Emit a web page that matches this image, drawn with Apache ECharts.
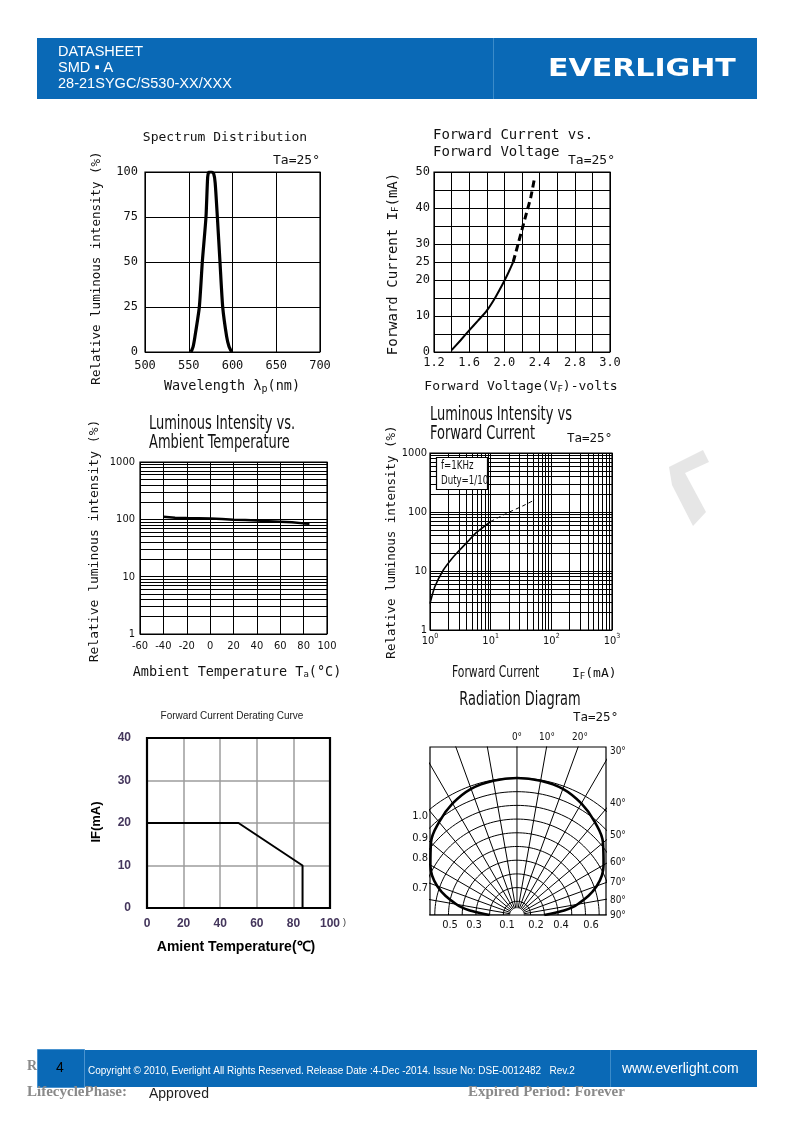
<!DOCTYPE html>
<html><head><meta charset="utf-8">
<script src="https://cdn.jsdelivr.net/npm/echarts@6/dist/echarts.min.js"></script>
<style>html,body{margin:0;padding:0;background:#fff}#c{width:794px;height:1123px}</style>
</head><body><div id="c"></div>
<script>
// ---------------- DATA ----------------
const spectrumWavelength = [552.6, 555, 557.1, 562.1, 565.5, 569.7, 571.6, 573, 576, 578.5, 580.2, 582.7, 585.7, 588.8, 593.3, 596, 599];
const spectrumIntensity  = [0, 3, 8.6, 25, 50, 75, 97, 100, 100, 99, 94, 75, 50, 25, 8.6, 3, 0];

const fvVoltSolid  = [1.4, 1.5, 1.6, 1.7, 1.8, 1.9, 2.0, 2.05, 2.1];
const fvCurrSolid  = [0.5, 3.2, 6, 8.7, 11.5, 15.3, 19.8, 22.3, 25];
const fvVoltDashed = [2.1, 2.15, 2.2, 2.25, 2.3, 2.34];
const fvCurrDashed = [25, 29.5, 34, 38.5, 43, 48];
const fvTickLabels = ['1.2', '', '1.6', '', '2.0', '', '2.4', '', '2.8', '', '3.0'];
const ifTickLabels = ['0', '', '10', '', '20', '25', '30', '', '40', '', '50'];

const tempC  = [-40, -30, -20, -10, 0, 10, 20, 30, 40, 50, 60, 70, 80, 85];
const tempIV = [111, 107, 105, 104, 103, 101, 98, 97, 95, 93, 91, 89, 85, 84];

const ifSolid  = [1, 1.2, 1.66, 2.27, 2.75, 4, 5.85, 8, 10];
const ivSolid  = [2.8, 5.4, 10.4, 16, 20, 30, 45, 58, 69];
const ifDashed = [10, 18.3, 34, 53.5];
const ivDashed = [69, 95, 127, 161];

const logTickLabels = {1: '1', 10: '10', 100: '100', 1000: '1000'};
const logMinorTicks = [2, 3, 4, 5, 6, 7, 8, 9, 20, 30, 40, 50, 60, 70, 80, 90, 200, 300, 400, 500, 600, 700, 800, 900];

const derateTemp = [0, 50, 85, 85];
const derateIF   = [20, 20, 10, 0];

const radAngles    = [0, 10, 20, 30, 40, 50, 60, 70, 80, 85, 90];
const radIntensity = [1.0, 0.995, 0.98, 0.94, 0.885, 0.82, 0.73, 0.62, 0.45, 0.33, 0.2];
const radSpokeAngles = [-90, -80, -70, -60, -50, -40, -30, -20, -10, 0, 10, 20, 30, 40, 50, 60, 70, 80, 90];
const radCircleRadii = [0.1, 0.2, 0.3, 0.4, 0.5, 0.6, 0.7, 0.8, 0.9, 1.0];
const radTopLabels    = ['0°', '10°', '20°'];
const radRightLabels  = ['30°', '40°', '50°', '60°', '70°', '80°', '90°'];
const radLeftLabels   = ['1.0', '0.9', '0.8', '0.7'];
const radBottomLabels = ['0.5', '0.3', '0.1', '0.2', '0.4', '0.6'];

// ---------------- LAYOUT / STYLE ----------------
const MONO = "'DejaVu Sans Mono','Liberation Mono',monospace";
const COND = "'DejaVu Sans Condensed','DejaVu Sans',sans-serif";
const ARIAL = "'Liberation Sans',Arial,sans-serif";
const SERIF = "'Liberation Serif','DejaVu Serif',serif";
const INK = '#111';

const G = [
  {left:145, top:172, width:175, height:180},
  {left:434, top:172, width:176, height:180},
  {left:140, top:462, width:187, height:172},
  {left:430, top:453, width:182, height:177},
  {left:147, top:738, width:183, height:170},
  {left:430, top:747, width:176, height:168}
];
const zip = (a, b) => a.map((v, i) => [v, b[i]]);

function axis(o) {
  const base = {
    type: 'value', axisLine: {show: false}, axisTick: {show: false},
    splitLine: {show: true, lineStyle: {color: '#000', width: 1}},
    axisLabel: {color: INK, fontFamily: MONO, fontSize: 12, showMinLabel: true, showMaxLabel: true, hideOverlap: false}
  };
  const r = Object.assign({}, base, o);
  if (o.axisLabel) r.axisLabel = Object.assign({}, base.axisLabel, o.axisLabel);
  if (o.splitLine) r.splitLine = o.splitLine;
  return r;
}
const supRich = {b: {fontFamily: COND, fontSize: 11, color: INK, lineHeight: 14, verticalAlign: 'bottom'},
                 s: {fontFamily: COND, fontSize: 7, color: INK, lineHeight: 14, verticalAlign: 'top'}};
const logLab = v => logTickLabels[Math.round(v)] || String(Math.round(v));

const xAxes = [
  axis({gridIndex:0, min:500, max:700, interval:50, axisLabel:{margin:8}}),
  axis({gridIndex:1, min:1.2, max:3.2, interval:0.2, axisLabel:{margin:5, formatter:(v,i)=>fvTickLabels[i] || ''}}),
  axis({gridIndex:2, min:-60, max:100, interval:20, axisLabel:{margin:7, fontFamily:COND, fontSize:11}}),
  axis({gridIndex:3, type:'log', logBase:10, min:1, max:1000, axisLabel:{margin:3, formatter:v=>'{b|10}{s|'+Math.round(Math.log10(v))+'}', rich:supRich}}),
  axis({gridIndex:4, min:0, max:100, interval:20, splitLine:{show:true, lineStyle:{color:'#9c9c9c', width:1.5}},
        axisLabel:{margin:10, fontFamily:ARIAL, fontSize:12, fontWeight:'bold', color:'#44365c'}}),
  axis({gridIndex:5, min:-0.635, max:0.65, show:false})
];
const yAxes = [
  axis({gridIndex:0, min:0, max:100, interval:25, axisLabel:{margin:7}}),
  axis({gridIndex:1, min:0, max:50, interval:5, axisLabel:{margin:4, formatter:(v,i)=>ifTickLabels[i] || ''}}),
  axis({gridIndex:2, type:'log', logBase:10, min:1, max:1000, axisLabel:{margin:5, fontFamily:COND, fontSize:11, formatter:logLab}}),
  axis({gridIndex:3, type:'log', logBase:10, min:1, max:1000, axisLabel:{margin:3, fontFamily:COND, fontSize:11, formatter:logLab}}),
  axis({gridIndex:4, min:0, max:40, interval:10, splitLine:{show:true, lineStyle:{color:'#9c9c9c', width:1.5}},
        axisLabel:{margin:16, fontFamily:ARIAL, fontSize:12, fontWeight:'bold', color:'#44365c'}}),
  axis({gridIndex:5, min:0, max:1.226, show:false})
];

function line(idx, data, o) {
  return Object.assign({type:'line', xAxisIndex:idx, yAxisIndex:idx, data, showSymbol:false, symbol:'none',
    silent:true, clip:true, z:5, lineStyle:{color:'#000', width:1}}, o || {});
}
function minorLines(idx, key) {
  const d = [];
  key.forEach(k => logMinorTicks.forEach(v => d.push({[k]: v})));
  return {type:'line', xAxisIndex:idx, yAxisIndex:idx, data:[], silent:true, z:2,
    markLine:{silent:true, symbol:['none','none'], label:{show:false}, animation:false,
      lineStyle:{color:'#000', width:1, type:'solid'}, emphasis:{disabled:true}, data:d}};
}

const series = [
  line(0, zip(spectrumWavelength, spectrumIntensity), {smooth:0.2, lineStyle:{color:'#000', width:3.2}}),
  line(1, zip(fvVoltSolid, fvCurrSolid), {smooth:0.2, lineStyle:{color:'#000', width:2}}),
  line(1, zip(fvVoltDashed, fvCurrDashed), {smooth:0.2, lineStyle:{color:'#000', width:3, type:[7,4]}}),
  minorLines(2, ['yAxis']),
  line(2, zip(tempC, tempIV), {lineStyle:{color:'#000', width:2.5}}),
  minorLines(3, ['xAxis', 'yAxis']),
  line(3, zip(ifSolid, ivSolid), {smooth:0.2, lineStyle:{color:'#000', width:1.6}}),
  line(3, zip(ifDashed, ivDashed), {smooth:0.2, lineStyle:{color:'#000', width:1, type:[4,3]}}),
  line(4, zip(derateTemp, derateIF), {lineStyle:{color:'#000', width:2}})
];

// radiation diagram grid (polar construction lines drawn in a square-scaled cartesian grid)
const toXY = (deg, r) => [r * Math.sin(deg * Math.PI / 180), r * Math.cos(deg * Math.PI / 180)];
radCircleRadii.forEach(r => {
  const pts = [];
  for (let a = -90; a <= 90; a += 2) pts.push(toXY(a, r));
  series.push(line(5, pts));
});
radSpokeAngles.forEach(a => series.push(line(5, [toXY(a, 0.05), toXY(a, 2.5)])));
const radPts = [];
for (let i = radAngles.length - 1; i >= 0; i--) radPts.push(toXY(-radAngles[i], radIntensity[i]));
for (let i = 1; i < radAngles.length; i++) radPts.push(toXY(radAngles[i], radIntensity[i]));
series.push(line(5, radPts, {smooth:0.4, z:8, lineStyle:{color:'#000', width:2.6}}));

// ---------------- GRAPHICS (text, frames, page decorations) ----------------
function T(x, y, text, font, o) {
  o = o || {};
  return Object.assign({type:'text', x, y, z:60, silent:true,
    style:Object.assign({text, font, fill:INK, textAlign:'left', textVerticalAlign:'middle'}, o.style || {})},
    o.el || {});
}
const V = {rotation: Math.PI / 2};
const subR = (fs, fam) => ({s:{font: fs + 'px ' + (fam || MONO), fill: INK, verticalAlign:'bottom', padding:[6,0,0,0]}});

const graphic = [];
// header
graphic.push({type:'rect', z:10, shape:{x:37, y:38, width:720, height:61}, style:{fill:'#0a69b6'}});
graphic.push({type:'line', z:11, shape:{x1:493.5, y1:38, x2:493.5, y2:99}, style:{stroke:'#3b8bc9', lineWidth:1}});
graphic.push(T(58, 52, 'DATASHEET', "15px " + ARIAL, {style:{fill:'#fff'}, el:{scaleX:0.97}}));
graphic.push(T(58, 68, 'SMD ▪ A', "15px " + ARIAL, {style:{fill:'#fff'}, el:{scaleX:0.97}}));
graphic.push(T(58, 84, '28-21SYGC/S530-XX/XXX', "15px " + ARIAL, {style:{fill:'#fff'}, el:{scaleX:0.97}}));
graphic.push(T(548, 69, 'EVERLIGHT', "bold 25px 'DejaVu Sans',sans-serif", {style:{fill:'#fff'}, el:{scaleX:1.2}}));

// footer
graphic.push(T(27, 1066, 'R', "bold 14px " + SERIF, {style:{fill:'#8a8a8a'}, el:{z:5}}));
graphic.push({type:'rect', z:10, shape:{x:37, y:1050, width:720, height:37}, style:{fill:'#0a69b6'}});
graphic.push({type:'rect', z:11, shape:{x:37.5, y:1049.5, width:47, height:38}, style:{fill:'#0a69b6', stroke:'#4a93cf', lineWidth:1}});
graphic.push({type:'line', z:11, shape:{x1:610.5, y1:1050, x2:610.5, y2:1087}, style:{stroke:'#3b8bc9', lineWidth:1}});
graphic.push(T(60, 1068, '4', "14px " + ARIAL, {style:{fill:'#000', textAlign:'center'}}));
graphic.push(T(88, 1071, 'Copyright © 2010, Everlight All Rights Reserved. Release Date :4-Dec -2014. Issue No: DSE-0012482   Rev.2', "10px " + ARIAL, {style:{fill:'#fff'}}));
graphic.push(T(622, 1069, 'www.everlight.com', "14px " + ARIAL, {style:{fill:'#fff'}}));
graphic.push(T(27, 1092, 'LifecyclePhase:', "bold 15px " + SERIF, {style:{fill:'#8a8a8a'}}));
graphic.push(T(149, 1094, 'Approved', "14px " + ARIAL, {style:{fill:'#222'}}));
graphic.push(T(468, 1092, 'Expired Period: Forever', "bold 15px " + SERIF, {style:{fill:'#8a8a8a'}}));

// watermark fragment
graphic.push({type:'polygon', z:1, shape:{points:[[669,467],[703,450],[709,462],[685,473],[706,512],[693,526],[672,485]]}, style:{fill:'#e6e6e6'}});

// frames
G.forEach((g, i) => graphic.push({type:'rect', z:50, silent:true,
  shape:{x:g.left, y:g.top, width:g.width, height:g.height},
  style:{fill:'none', stroke:'#000', lineWidth: i === 4 ? 2.2 : 1.2}}));

// chart 1 texts
graphic.push(T(225, 138, 'Spectrum Distribution', "13px " + MONO, {style:{textAlign:'center'}}));
graphic.push(T(320, 161, 'Ta=25°', "13px " + MONO, {style:{textAlign:'right'}}));
graphic.push(T(97, 268, 'Relative luminous intensity (%)', "12.5px " + MONO, {style:{textAlign:'center'}, el:V}));
graphic.push(T(232, 386, 'Wavelength λ{s|p}(nm)', "13.5px " + MONO, {style:{textAlign:'center', rich:subR(10)}}));

// chart 2 texts
graphic.push(T(433, 135, 'Forward Current vs.', "14px " + MONO));
graphic.push(T(433, 152, 'Forward Voltage', "14px " + MONO));
graphic.push(T(568, 161, 'Ta=25°', "13px " + MONO));
graphic.push(T(393, 264, 'Forward Current I{s|F}(mA)', "14px " + MONO, {style:{textAlign:'center', rich:subR(9)}, el:V}));
graphic.push(T(521, 387, 'Forward Voltage(V{s|F})-volts', "13px " + MONO, {style:{textAlign:'center', rich:subR(9)}}));

// chart 3 texts
graphic.push(T(149, 424, 'Luminous Intensity vs.', "19px " + COND, {el:{scaleX:0.76}}));
graphic.push(T(149, 443, 'Ambient Temperature', "19px " + COND, {el:{scaleX:0.76}}));
graphic.push(T(95, 541, 'Relative luminous intensity (%)', "13px " + MONO, {style:{textAlign:'center'}, el:V}));
graphic.push(T(237, 672, 'Ambient Temperature T{s|a}(°C)', "13.5px " + MONO, {style:{textAlign:'center', rich:subR(9)}}));

// chart 4 texts
graphic.push(T(430, 415, 'Luminous Intensity vs', "19px " + COND, {el:{scaleX:0.76}}));
graphic.push(T(430, 434, 'Forward Current', "19px " + COND, {el:{scaleX:0.76}}));
graphic.push(T(567, 439, 'Ta=25°', "12.5px " + MONO));
graphic.push(T(392, 542, 'Relative luminous intensity (%)', "12.5px " + MONO, {style:{textAlign:'center'}, el:V}));
graphic.push(T(452, 673, 'Forward Current', "16px " + COND, {el:{scaleX:0.75}}));
graphic.push(T(572, 674, 'I{s|F}(mA)', "13px " + MONO, {style:{rich:subR(9)}}));
graphic.push({type:'rect', z:55, silent:true, shape:{x:436.5, y:457.5, width:51, height:32}, style:{fill:'#fff', stroke:'#000', lineWidth:1.2}});
graphic.push(T(441, 466, 'f=1KHz', "12px " + COND, {el:{scaleX:0.8}}));
graphic.push(T(441, 481, 'Duty=1/10', "12px " + COND, {el:{scaleX:0.8}}));

// chart 5 texts
graphic.push(T(232, 716, 'Forward Current Derating Curve', "10px " + ARIAL, {style:{textAlign:'center', fill:'#222'}}));
graphic.push(T(96, 822, 'IF(mA)', "bold 13px " + ARIAL, {style:{textAlign:'center', fill:'#000'}, el:V}));
graphic.push(T(236, 947, 'Amient Temperature(℃)', "bold 14px " + ARIAL, {style:{textAlign:'center', fill:'#000'}}));
graphic.push(T(343, 923, ')', "9px " + ARIAL, {style:{fill:'#333'}}));

// chart 6 texts
graphic.push(T(520, 700, 'Radiation Diagram', "19px " + COND, {style:{textAlign:'center'}, el:{scaleX:0.76}}));
graphic.push(T(573, 718, 'Ta=25°', "12.5px " + MONO));
const radTopX = [517, 547, 580];
radTopLabels.forEach((t, i) => graphic.push(T(radTopX[i], 737, t, "11px " + COND, {style:{textAlign:'center'}, el:{scaleX:0.9}})));
const radRightY = [751, 803, 835, 862, 882, 900, 915];
radRightLabels.forEach((t, i) => graphic.push(T(610, radRightY[i], t, "11px " + COND, {el:{scaleX:0.9}})));
const radLeftY = [816, 838, 858, 888];
radLeftLabels.forEach((t, i) => graphic.push(T(428, radLeftY[i], t, "11px " + COND, {style:{textAlign:'right'}})));
const radBottomX = [450, 474, 507, 536, 561, 591];
radBottomLabels.forEach((t, i) => graphic.push(T(radBottomX[i], 925, t, "11px " + COND, {style:{textAlign:'center'}})));

const chart = echarts.init(document.getElementById('c'), null, {renderer:'canvas'});
chart.setOption({
  backgroundColor:'#fff',
  animation:false,
  grid: G.map(g => Object.assign({show:false, containLabel:false, outerBoundsMode:'none'}, g)),
  xAxis: xAxes,
  yAxis: yAxes,
  series,
  graphic
});
</script></body></html>
